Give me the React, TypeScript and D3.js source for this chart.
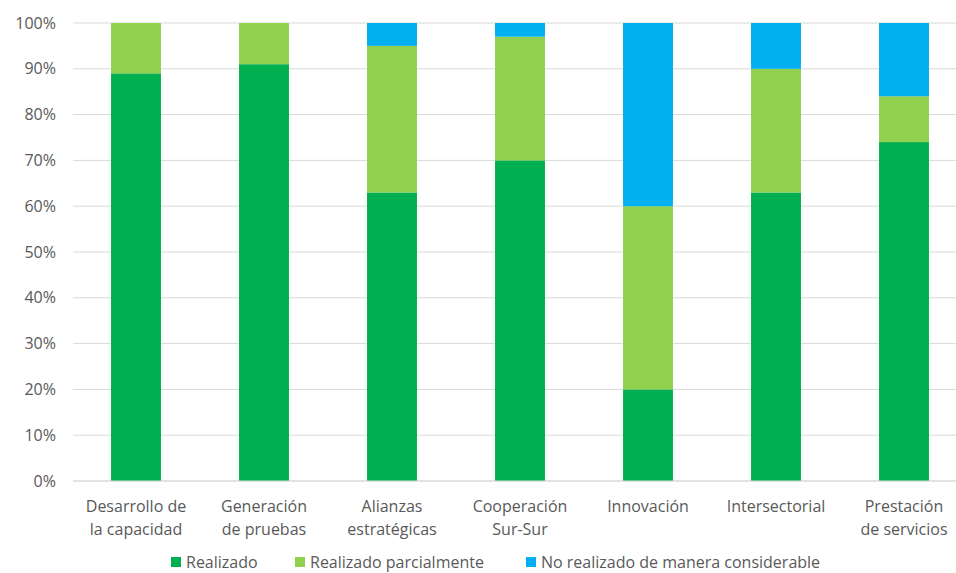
import React from 'react';
import * as d3 from 'd3';

const CATEGORIES = [
  ['Desarrollo de', 'la capacidad'],
  ['Generación', 'de pruebas'],
  ['Alianzas', 'estratégicas'],
  ['Cooperación', 'Sur-Sur'],
  ['Innovación'],
  ['Intersectorial'],
  ['Prestación', 'de servicios'],
];
const REALIZADO = [89, 91, 63, 70, 20, 63, 74];
const PARCIAL = [11, 9, 32, 27, 40, 27, 10];
const NO_REALIZADO = [0, 0, 5, 3, 40, 10, 16];
const SERIES = ['Realizado', 'Realizado parcialmente', 'No realizado de manera considerable'];
const COLORS = ['#00B050', '#92D050', '#00B0F0'];
const Y_TICKS = [0, 10, 20, 30, 40, 50, 60, 70, 80, 90, 100];

const W = 956;
const H = 573;
const FONT = '"Open Sans", "Noto Sans", sans-serif';

const App: React.FC = () => {
  const x = d3.scaleBand<number>().domain(d3.range(CATEGORIES.length)).range([72, 968]).paddingInner(0.61).paddingOuter(0.305);
  const y = d3.scaleLinear().domain([0, 100]).range([481, 23]);

  const rows = CATEGORIES.map((_, i) => ({ i, r: REALIZADO[i], p: PARCIAL[i], n: NO_REALIZADO[i] }));
  const stacked = d3.stack<any>().keys(['r', 'p', 'n'])(rows);

  const legendX = [171, 295, 526];

  return (
    <svg width={W} height={H} style={{ position: 'absolute', left: 0, top: 0, background: '#fff' }} fontFamily={FONT}>
      {Y_TICKS.map(t => (
        <g key={t}>
          <line x1={73} x2={W} y1={y(t)} y2={y(t)} stroke="#d9d9d9" strokeWidth={1} />
          <text x={56} y={y(t)} dy="0.35em" textAnchor="end" fontSize={16} fill="#595959">{t}%</text>
        </g>
      ))}
      {stacked.map((layer, k) => (
        <g key={k} fill={COLORS[k]}>
          {layer.map((d, i) => (
            <rect key={i} x={x(i)} width={x.bandwidth()} y={y(d[1])} height={y(d[0]) - y(d[1])} />
          ))}
        </g>
      ))}
      <line x1={73} x2={W} y1={y(0)} y2={y(0)} stroke="#d9d9d9" strokeWidth={1} />
      {CATEGORIES.map((lines, i) => (
        <text key={i} x={(x(i) as number) + x.bandwidth() / 2} y={512} textAnchor="middle" fontSize={16} fill="#595959">
          {lines.map((l, j) => (
            <tspan key={j} x={(x(i) as number) + x.bandwidth() / 2} dy={j === 0 ? 0 : 23}>{l}</tspan>
          ))}
        </text>
      ))}
      {SERIES.map((s, k) => (
        <g key={s}>
          <rect x={legendX[k]} y={557} width={10} height={10} fill={COLORS[k]} />
          <text x={legendX[k] + 15} y={568} fontSize={16} fill="#595959">{s}</text>
        </g>
      ))}
    </svg>
  );
};

export default App;
